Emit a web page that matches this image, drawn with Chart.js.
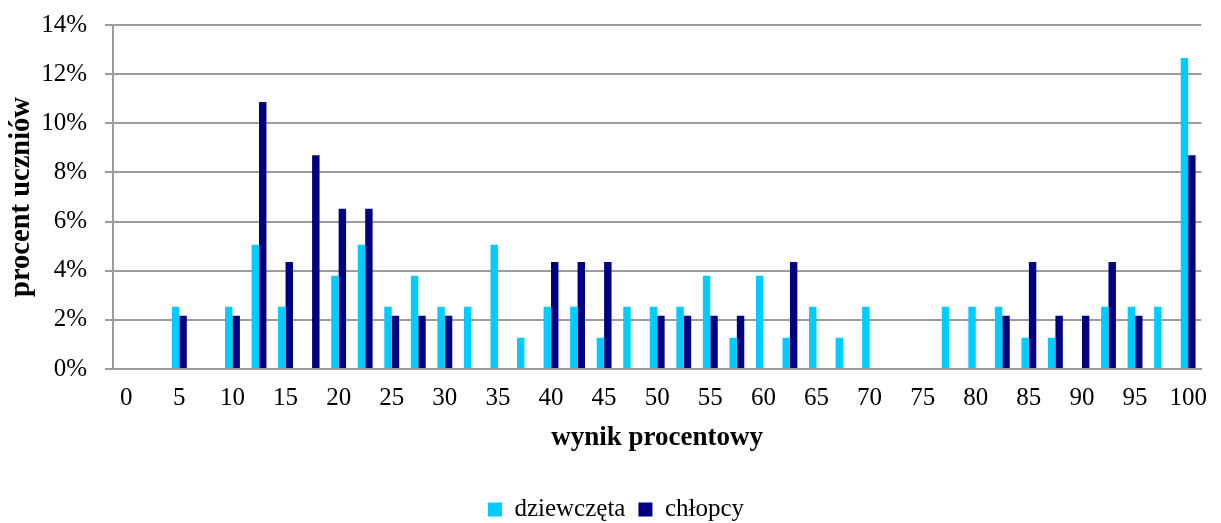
<!DOCTYPE html>
<html lang="pl">
<head>
<meta charset="utf-8">
<title>Wynik procentowy – dziewczęta i chłopcy</title>
<script src="https://cdn.jsdelivr.net/npm/chart.js@4.4.1/dist/chart.umd.min.js"></script>
<style>
  html, body { margin: 0; padding: 0; background: #ffffff; }
  .chart-box { position: relative; width: 1221px; height: 523px; }
</style>
</head>
<body>
<div class="chart-box"><canvas id="wynikiChart"></canvas></div>
<script>
'use strict';

// wynik procentowy (co 2,5 pkt proc.)
const CATEGORIES = [
  0, 2.5, 5, 7.5, 10, 12.5, 15, 17.5, 20, 22.5,
  25, 27.5, 30, 32.5, 35, 37.5, 40, 42.5, 45, 47.5,
  50, 52.5, 55, 57.5, 60, 62.5, 65, 67.5, 70, 72.5,
  75, 77.5, 80, 82.5, 85, 87.5, 90, 92.5, 95, 97.5, 100,
];

// procent uczniów
const GIRLS = [
  0, 0, 2.53, 0, 2.53, 5.06, 2.53, 0, 3.80, 5.06,
  2.53, 3.80, 2.53, 2.53, 5.06, 1.27, 2.53, 2.53, 1.27, 2.53,
  2.53, 2.53, 3.80, 1.27, 3.80, 1.27, 2.53, 1.27, 2.53, 0,
  0, 2.53, 2.53, 2.53, 1.27, 1.27, 0, 2.53, 2.53, 2.53, 12.66,
];

const BOYS = [
  0, 0, 2.17, 0, 2.17, 10.87, 4.35, 8.70, 6.52, 6.52,
  2.17, 2.17, 2.17, 0, 0, 0, 4.35, 4.35, 4.35, 0,
  2.17, 2.17, 2.17, 2.17, 0, 4.35, 0, 0, 0, 0,
  0, 0, 0, 2.17, 4.35, 2.17, 2.17, 4.35, 2.17, 0, 8.70,
];

const Y_MAX  = 14;
const Y_STEP = 2;

const FONT = "'Liberation Serif', 'Times New Roman', serif";
const GRID = '#9c9c9c';

new Chart(document.getElementById('wynikiChart'), {
  type: 'bar',
  data: {
    labels: CATEGORIES,
    datasets: [
      { label: 'dziewczęta', data: GIRLS, backgroundColor: '#00ccff' },
      { label: 'chłopcy',    data: BOYS,  backgroundColor: '#000080' },
    ],
  },
  options: {
    responsive: true,
    maintainAspectRatio: false,
    animation: false,
    datasets: {
      bar: { categoryPercentage: 0.56, barPercentage: 1.0, borderWidth: 0 },
    },
    layout: { padding: { top: 25, left: 20, right: 9, bottom: 0 } },
    scales: {
      x: {
        grid: { display: false, drawTicks: false },
        border: { display: true, color: GRID, width: 2 },
        ticks: {
          autoSkip: false,
          maxRotation: 0,
          padding: 14,
          color: '#000',
          font: { family: FONT, size: 25 },
          // podpis tylko co 5 punktów
          callback: (val, i) => (CATEGORIES[i] % 5 === 0 ? String(CATEGORIES[i]) : ''),
        },
        title: {
          display: true,
          text: 'wynik procentowy',
          color: '#000',
          font: { family: FONT, size: 27, weight: 'bold' },
          padding: { top: 0, bottom: 30 },
        },
        afterFit: scale => { scale.height = 115; },
      },
      y: {
        min: 0,
        max: Y_MAX,
        grid: { color: GRID, lineWidth: 2, tickLength: 8, drawTicks: true },
        border: { display: true, color: GRID, width: 2 },
        ticks: {
          stepSize: Y_STEP,
          padding: 18,
          color: '#000',
          font: { family: FONT, size: 25 },
          callback: v => v + '%',
        },
        title: {
          display: true,
          text: 'procent uczniów',
          color: '#000',
          font: { family: FONT, size: 28.5, weight: 'bold' },
          // tytuł wysunięty w lewy margines wykresu
          padding: { top: -15, bottom: 0 },
        },
        afterFit: scale => {
          scale.width = 93;
          scale.paddingTop = 0;
          scale.paddingBottom = 0;
        },
      },
    },
    plugins: {
      legend: {
        position: 'bottom',
        maxHeight: 39,
        labels: {
          color: '#000',
          font: { family: FONT, size: 25 },
          boxWidth: 14,
          boxHeight: 14,
          padding: 13,
        },
      },
      tooltip: { enabled: false },
    },
  },
});
</script>
</body>
</html>
